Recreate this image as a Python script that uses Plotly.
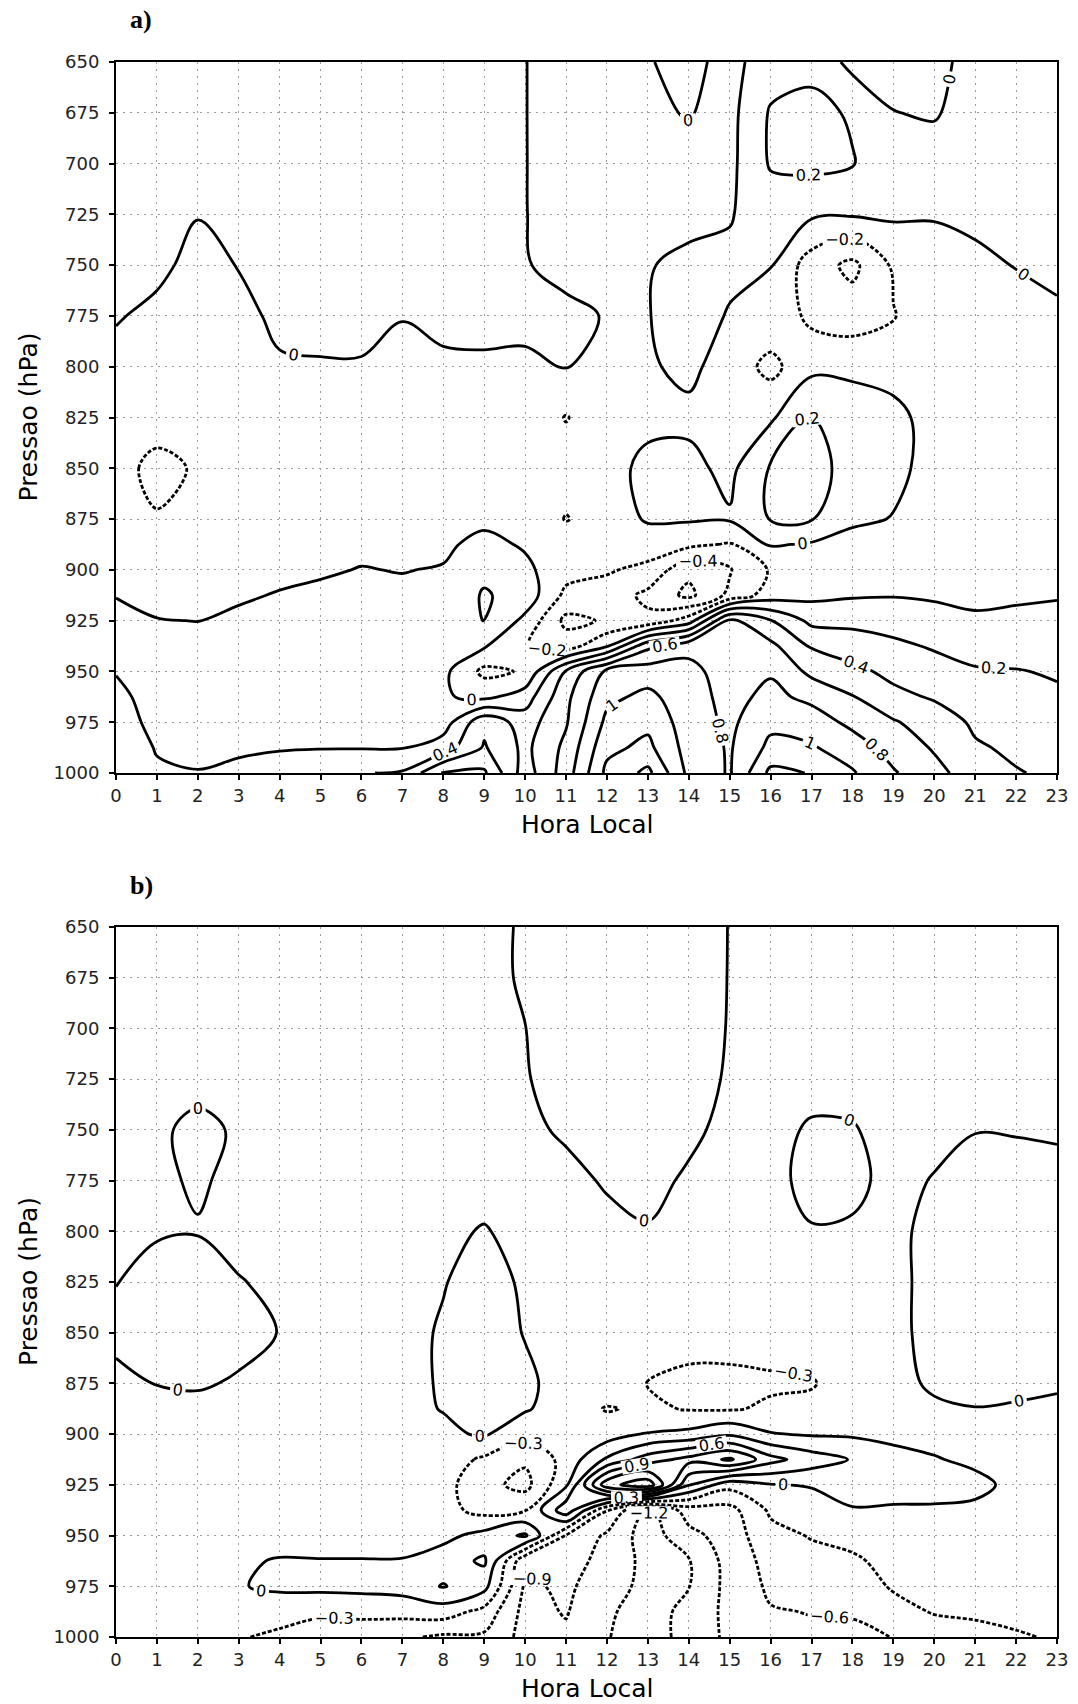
import numpy as np
import plotly.graph_objects as go

# Local hour (x) and pressure levels (y, hPa)
hours = list(range(24))
levels_hpa = [650, 675, 700, 725, 750, 775, 800, 825, 850, 875,
              887.5, 900, 912.5, 925, 937.5, 950, 962.5, 975, 987.5, 1000]
hour_labels = [str(h) for h in hours]
pressure_ticks = list(range(650, 1001, 25))

# Panel a) one vertical profile per local hour, ordered 650 hPa -> 1000 hPa
profiles_a = [
    [0.12, 0.12, 0.10, 0.08, 0.05, 0.01, -0.04, -0.10, -0.15, -0.13, -0.09, -0.04, -0.005, 0.04, 0.10, 0.19, 0.25, 0.28, 0.30, 0.30],   # 00
    [0.12, 0.12, 0.10, 0.07, 0.03, -0.03, -0.08, -0.14, -0.24, -0.19, -0.13, -0.09, -0.04, 0.005, 0.05, 0.09, 0.12, 0.15, 0.19, 0.22],  # 01
    [0.10, 0.08, 0.05, 0.005, -0.04, -0.07, -0.09, -0.11, -0.185, -0.14, -0.11, -0.08, -0.04, -0.002, 0.04, 0.08, 0.11, 0.14, 0.17, 0.205],  # 02
    [0.10, 0.10, 0.08, 0.04, 0.005, -0.04, -0.07, -0.09, -0.11, -0.10, -0.08, -0.06, -0.02, 0.03, 0.06, 0.09, 0.12, 0.15, 0.18, 0.23],  # 03
    [0.10, 0.10, 0.09, 0.08, 0.06, 0.03, -0.015, -0.06, -0.08, -0.08, -0.07, -0.04, 0.01, 0.05, 0.08, 0.10, 0.13, 0.16, 0.19, 0.26],   # 04
    [0.10, 0.10, 0.10, 0.09, 0.07, 0.04, -0.01, -0.05, -0.07, -0.07, -0.05, -0.015, 0.025, 0.06, 0.09, 0.11, 0.13, 0.16, 0.19, 0.36],  # 05
    [0.10, 0.10, 0.10, 0.09, 0.07, 0.04, -0.01, -0.04, -0.06, -0.05, -0.03, 0.005, 0.04, 0.07, 0.10, 0.12, 0.14, 0.16, 0.19, 0.39],    # 06
    [0.10, 0.10, 0.10, 0.09, 0.06, 0.005, -0.04, -0.05, -0.06, -0.05, -0.03, -0.005, 0.03, 0.06, 0.09, 0.11, 0.13, 0.16, 0.19, 0.42],  # 07
    [0.10, 0.10, 0.09, 0.08, 0.06, 0.03, -0.02, -0.05, -0.06, -0.05, -0.03, 0.01, 0.05, 0.08, 0.08, 0.05, 0.02, 0.10, 0.30, 0.82],     # 08
    [0.08, 0.08, 0.07, 0.06, 0.05, 0.02, -0.01, -0.04, -0.05, -0.04, 0.05, 0.15, 0.22, 0.21, 0.02, -0.25, -0.05, 0.55, 0.62, 0.83],    # 09
    [0.005, 0.005, 0.005, 0.005, 0.01, 0.03, -0.02, -0.06, -0.06, -0.05, -0.02, 0.04, 0.12, -0.05, -0.19, -0.18, 0.10, 0.30, 0.35, 0.30],  # 10
    [-0.10, -0.10, -0.09, -0.08, -0.05, 0.04, 0.005, -0.21, -0.10, -0.21, -0.10, -0.12, -0.25, -0.45, -0.30, 0.42, 0.55, 0.58, 0.65, 0.70],  # 11
    [-0.12, -0.12, -0.11, -0.10, -0.08, -0.01, -0.03, -0.08, -0.07, -0.10, -0.12, -0.18, -0.28, -0.38, -0.02, 0.85, 0.95, 1.05, 1.15, 1.25],  # 12
    [-0.01, -0.03, -0.05, -0.06, -0.01, -0.005, -0.02, -0.05, 0.05, 0.02, -0.10, -0.25, -0.45, -0.35, 0.55, 0.90, 1.05, 1.15, 1.25, 1.45],  # 13
    [0.05, 0.01, -0.05, -0.05, 0.04, 0.06, 0.04, -0.04, 0.05, 0.02, -0.15, -0.55, -0.65, -0.10, 0.75, 0.85, 0.88, 0.90, 0.92, 0.95],   # 14
    [-0.06, -0.06, -0.05, -0.01, 0.03, -0.01, -0.08, -0.08, -0.05, 0.02, -0.22, -0.42, -0.35, 0.65, 0.72, 0.72, 0.74, 0.76, 0.78, 0.78],  # 15
    [0.10, 0.22, 0.22, 0.08, 0.005, -0.05, -0.26, -0.03, 0.22, 0.21, 0.02, -0.18, -0.10, 0.41, 0.65, 0.78, 0.85, 0.95, 1.05, 1.25],   # 16
    [0.15, 0.25, 0.25, 0.03, -0.30, -0.25, -0.05, 0.21, 0.25, 0.21, -0.02, -0.10, -0.05, 0.15, 0.38, 0.55, 0.75, 0.90, 1.02, 1.19],   # 17
    [-0.06, 0.18, 0.21, 0.02, -0.45, -0.30, -0.05, 0.12, 0.15, 0.05, -0.10, -0.08, -0.02, 0.15, 0.30, 0.45, 0.61, 0.75, 0.90, 1.02],  # 18
    [-0.08, 0.005, 0.10, 0.03, -0.17, -0.21, -0.08, 0.06, 0.06, -0.01, -0.08, -0.06, -0.01, 0.12, 0.24, 0.35, 0.45, 0.62, 0.72, 0.82],  # 19
    [-0.08, -0.02, 0.10, 0.02, -0.12, -0.12, -0.10, -0.08, -0.08, -0.07, -0.06, -0.05, -0.02, 0.06, 0.18, 0.28, 0.38, 0.50, 0.58, 0.66],  # 20
    [0.10, 0.10, 0.08, 0.03, -0.03, -0.06, -0.07, -0.07, -0.07, -0.06, -0.05, -0.05, -0.03, 0.02, 0.12, 0.22, 0.30, 0.37, 0.42, 0.50],  # 21
    [0.10, 0.10, 0.09, 0.06, 0.005, -0.05, -0.06, -0.06, -0.06, -0.05, -0.05, -0.04, -0.02, 0.03, 0.11, 0.21, 0.28, 0.33, 0.37, 0.41],  # 22
    [0.10, 0.10, 0.10, 0.07, 0.03, -0.02, -0.05, -0.05, -0.05, -0.05, -0.04, -0.03, -0.01, 0.04, 0.10, 0.18, 0.23, 0.28, 0.33, 0.37],  # 23
]

# Panel b) one vertical profile per local hour, ordered 650 hPa -> 1000 hPa
profiles_b = [
    [-0.06, -0.06, -0.06, -0.06, -0.06, -0.05, -0.03, -0.005, 0.05, -0.05, -0.06, -0.07, -0.08, -0.08, -0.09, -0.10, -0.10, -0.12, -0.15, -0.18],  # 00
    [-0.08, -0.08, -0.08, -0.08, -0.04, -0.03, -0.02, 0.08, 0.10, 0.005, -0.05, -0.07, -0.08, -0.09, -0.10, -0.10, -0.11, -0.13, -0.17, -0.20],   # 01
    [-0.08, -0.08, -0.08, -0.08, 0.06, 0.02, -0.01, 0.10, 0.10, 0.02, -0.05, -0.07, -0.08, -0.09, -0.10, -0.10, -0.12, -0.15, -0.19, -0.22],      # 02
    [-0.08, -0.08, -0.08, -0.08, -0.03, -0.04, -0.06, 0.01, 0.06, -0.02, -0.06, -0.08, -0.09, -0.10, -0.10, -0.08, -0.02, -0.02, -0.20, -0.28],   # 03
    [-0.08, -0.08, -0.08, -0.08, -0.06, -0.06, -0.06, -0.04, -0.005, -0.05, -0.06, -0.07, -0.07, -0.07, -0.07, -0.06, 0.01, 0.06, -0.20, -0.35],  # 04
    [-0.08, -0.08, -0.08, -0.08, -0.08, -0.07, -0.07, -0.06, -0.06, -0.06, -0.06, -0.06, -0.06, -0.06, -0.06, -0.05, 0.005, 0.08, -0.25, -0.45],  # 05
    [-0.08, -0.08, -0.08, -0.08, -0.08, -0.07, -0.07, -0.06, -0.06, -0.06, -0.06, -0.06, -0.06, -0.06, -0.05, -0.05, 0.005, 0.09, -0.22, -0.48],  # 06
    [-0.07, -0.07, -0.07, -0.07, -0.07, -0.06, -0.06, -0.06, -0.06, -0.06, -0.06, -0.06, -0.06, -0.05, -0.05, -0.04, 0.005, 0.12, -0.20, -0.55],  # 07
    [-0.06, -0.06, -0.06, -0.06, -0.06, -0.05, -0.03, -0.01, 0.02, 0.02, 0.01, -0.05, -0.15, -0.20, -0.20, -0.08, 0.15, 0.32, -0.15, -0.65],      # 08
    [-0.05, -0.05, -0.05, -0.05, -0.05, -0.06, 0.01, 0.08, 0.10, 0.10, 0.08, 0.03, -0.35, -0.50, -0.40, 0.10, 0.35, 0.10, -0.40, -0.65],          # 09
    [0.02, 0.02, -0.002, -0.01, -0.03, -0.05, -0.05, -0.03, -0.01, 0.04, 0.03, -0.20, -0.55, -0.70, -0.32, 0.35, -0.85, -0.95, -1.00, -1.00],     # 10
    [0.07, 0.07, 0.07, 0.06, 0.02, -0.04, -0.06, -0.06, -0.06, -0.08, -0.15, -0.20, -0.20, -0.05, 0.50, -0.62, -0.80, -0.85, -0.88, -0.95],       # 11
    [0.08, 0.08, 0.08, 0.08, 0.06, 0.015, -0.04, -0.06, -0.08, -0.12, -0.32, -0.15, 0.35, 1.40, -0.58, -0.95, -0.98, -1.05, -1.15, -1.18],        # 12
    [0.08, 0.08, 0.08, 0.08, 0.08, 0.04, -0.01, -0.06, -0.12, -0.31, -0.25, 0.02, 0.75, 1.70, -1.30, -1.35, -1.30, -1.30, -1.35, -1.40],          # 13
    [0.07, 0.07, 0.07, 0.07, 0.03, -0.02, -0.05, -0.10, -0.20, -0.36, -0.32, 0.08, 1.00, 0.32, -0.75, -1.00, -1.22, -1.21, -1.10, -1.05],         # 14
    [-0.004, -0.005, -0.008, -0.02, -0.04, -0.06, -0.08, -0.10, -0.20, -0.36, -0.33, 0.25, 1.25, -0.20, -0.70, -0.75, -0.78, -0.80, -0.82, -0.85],  # 15
    [-0.05, -0.05, -0.05, -0.06, -0.05, -0.05, -0.05, -0.08, -0.15, -0.35, -0.25, 0.02, 0.70, -0.02, -0.25, -0.40, -0.50, -0.55, -0.62, -0.70],    # 16
    [-0.06, -0.06, -0.06, -0.06, 0.02, 0.05, -0.01, -0.06, -0.10, -0.33, -0.20, -0.03, 0.45, 0.03, -0.20, -0.28, -0.40, -0.50, -0.59, -0.65],      # 17
    [-0.04, -0.05, -0.05, -0.05, 0.01, 0.04, -0.02, -0.05, -0.08, -0.10, -0.08, -0.04, 0.28, 0.12, -0.02, -0.20, -0.35, -0.45, -0.58, -0.65],      # 18
    [-0.05, -0.05, -0.05, -0.05, -0.05, -0.05, -0.05, -0.05, -0.05, -0.06, -0.05, -0.06, 0.08, 0.10, -0.03, -0.12, -0.20, -0.27, -0.40, -0.595],   # 19
    [-0.06, -0.06, -0.06, -0.06, -0.05, 0.01, 0.06, 0.06, 0.06, 0.03, -0.03, -0.05, 0.01, 0.06, -0.02, -0.08, -0.14, -0.20, -0.28, -0.45],        # 20
    [-0.05, -0.05, -0.05, -0.05, -0.005, 0.06, 0.07, 0.07, 0.07, 0.06, -0.005, -0.04, -0.03, 0.04, -0.03, -0.07, -0.12, -0.18, -0.25, -0.40],     # 21
    [-0.05, -0.05, -0.05, -0.05, -0.01, 0.06, 0.07, 0.07, 0.07, 0.05, -0.02, -0.04, -0.04, -0.04, -0.05, -0.07, -0.10, -0.15, -0.22, -0.33],       # 22
    [-0.05, -0.05, -0.05, -0.05, -0.02, 0.05, 0.06, 0.06, 0.06, 0.02, -0.03, -0.04, -0.04, -0.04, -0.05, -0.06, -0.09, -0.13, -0.20, -0.27],       # 23
]

W, H = 1078, 1704
X_DOM = [116 / W, 1057 / W]
PANELS = [
    # (profiles, contour step, lowest negative level, highest positive level, axis suffix, y top px, y bottom px, tag)
    (profiles_a, 0.2, -1.0, 1.6, "", 62, 773, "a)"),
    (profiles_b, 0.3, -1.8, 2.1, "2", 927, 1637, "b)"),
]

LABEL_FONT = dict(family="DejaVu Sans", size=16, color="black")
TICK_FONT = dict(family="DejaVu Sans", size=18, color="#222")
TITLE_FONT = dict(family="DejaVu Sans", size=25, color="black")

fig = go.Figure()
layout = dict(width=W, height=H, margin=dict(l=0, r=0, t=0, b=0, pad=0),
              autosize=False, paper_bgcolor="white", plot_bgcolor="white",
              showlegend=False, annotations=[])

for profiles, step, neg_lo, pos_hi, sfx, top_px, bot_px, tag in PANELS:
    z = np.array(profiles).T
    common = dict(x=hours, y=levels_hpa, z=z, xaxis="x" + sfx, yaxis="y" + sfx,
                  showscale=False, hoverinfo="skip", autocontour=False)
    # zero and positive isolines: solid
    fig.add_trace(go.Contour(
        **common,
        contours=dict(start=0, end=pos_hi, size=step, coloring="none",
                      showlabels=True, labelfont=LABEL_FONT, labelformat=".1~f"),
        line=dict(color="black", width=2.8, smoothing=1.0)))
    # negative isolines: dashed
    fig.add_trace(go.Contour(
        **common,
        contours=dict(start=neg_lo, end=-step, size=step, coloring="none",
                      showlabels=True, labelfont=LABEL_FONT, labelformat=".1~f"),
        line=dict(color="black", width=2.8, dash="4px,2px", smoothing=1.0)))

    y_dom = [1 - bot_px / H, 1 - top_px / H]
    axis_common = dict(showline=True, linecolor="black", linewidth=2, mirror=True,
                       ticks="outside", ticklen=5, tickwidth=1.5, tickcolor="black",
                       showgrid=True, griddash="2px,5px", gridcolor="#9a9a9a", gridwidth=1,
                       zeroline=False, tickfont=TICK_FONT, automargin=False)
    layout["xaxis" + sfx] = dict(axis_common, domain=X_DOM, anchor="y" + sfx,
                                 range=[0, 23], tickmode="array",
                                 tickvals=hours, ticktext=hour_labels)
    layout["yaxis" + sfx] = dict(axis_common, domain=y_dom, anchor="x" + sfx,
                                 range=[1000, 650], tickmode="array",
                                 tickvals=pressure_ticks,
                                 ticktext=[str(p) for p in pressure_ticks],
                                 ticklabelstandoff=6)

    mid_y = 1 - (top_px + bot_px) / 2 / H
    layout["annotations"] += [
        dict(text="<b>" + tag + "</b>", x=141 / W, y=1 - (top_px - 42) / H,
             xref="paper", yref="paper", xanchor="center", yanchor="middle",
             showarrow=False,
             font=dict(family="Liberation Serif", size=26, color="black")),
        dict(text="Hora Local", x=(X_DOM[0] + X_DOM[1]) / 2, y=1 - (bot_px + 51) / H,
             xref="paper", yref="paper", xanchor="center", yanchor="middle",
             showarrow=False, font=TITLE_FONT),
        dict(text="Pressao (hPa)", x=28 / W, y=mid_y, textangle=-90,
             xref="paper", yref="paper", xanchor="center", yanchor="middle",
             showarrow=False, font=TITLE_FONT),
    ]

fig.update_layout(**layout)
fig.write_html("out.html")
